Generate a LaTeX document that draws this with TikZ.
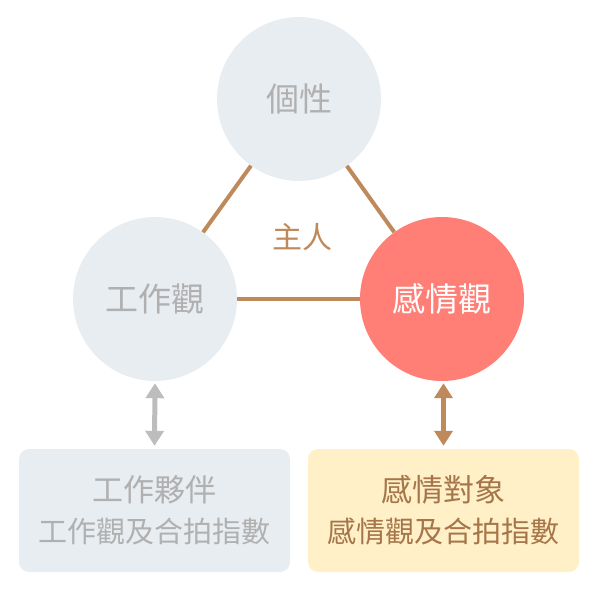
\documentclass[tikz,border=0pt]{standalone}
\usepackage{fontspec}
\setmainfont{Noto Sans CJK TC}
\usetikzlibrary{arrows.meta}

\definecolor{circgray}{HTML}{E8EDF2}
\definecolor{textgray}{HTML}{B0B0B0}
\definecolor{lovered}{HTML}{FF7F77}
\definecolor{linebrown}{HTML}{BF8A5B}
\definecolor{textbrown}{HTML}{A6764A}
\definecolor{boxyellow}{HTML}{FFF0C8}
\definecolor{arrowgray}{HTML}{BDBDBD}

\newcommand{\boxhead}[1]{{\fontsize{31}{41}\selectfont #1}}
\newcommand{\boxsub}[1]{{\fontsize{29}{41}\selectfont #1}}

\begin{document}
\begin{tikzpicture}[x=1pt, y=-1pt,
    bubble/.style={circle, minimum size=164pt, inner sep=0pt,
      font=\fontsize{33}{38}\selectfont},
    infobox/.style={rectangle, rounded corners=10pt, minimum width=271pt,
      minimum height=123pt, align=center, font=\fontsize{29}{41}\selectfont},
    link/.style={linebrown, line width=4pt},
    pair/.style={{Triangle[width=18pt,length=15pt]}-{Triangle[width=18pt,length=15pt]},
      line width=5pt, shorten <=2pt, shorten >=3pt}]
    \useasboundingbox (0,0) rectangle (600,592);

    % Os três círculos
    \node[bubble, fill=circgray, text=textgray] (trait) at (299,99) {個性};
    \node[bubble, fill=circgray, text=textgray] (work) at (155,299) {工作觀};
    \node[bubble, fill=lovered, text=white] (love) at (442,299) {感情觀};

    % Ligações entre os círculos
    \draw[link] (trait) -- (work);
    \draw[link] (trait) -- (love);
    \draw[link] (work) -- (love);
    \node[text=linebrown, font=\fontsize{30}{34}\selectfont] (owner) at (302,237) {主人};

    % Caixas de baixo
    \node[infobox, fill=circgray, text=textgray] (workbox) at (154.5,510.5)
      {\boxhead{工作夥伴}\\\boxsub{工作觀及合拍指數}};
    \node[infobox, fill=boxyellow, text=textbrown] (lovebox) at (443.5,510.5)
      {\boxhead{感情對象}\\\boxsub{感情觀及合拍指數}};

    % Setas duplas
    \draw[pair, arrowgray] (work.south) -- (workbox.north);
    \draw[pair, linebrown] (love.south -| lovebox.north) -- (lovebox.north);
  \end{tikzpicture}
\end{document}
